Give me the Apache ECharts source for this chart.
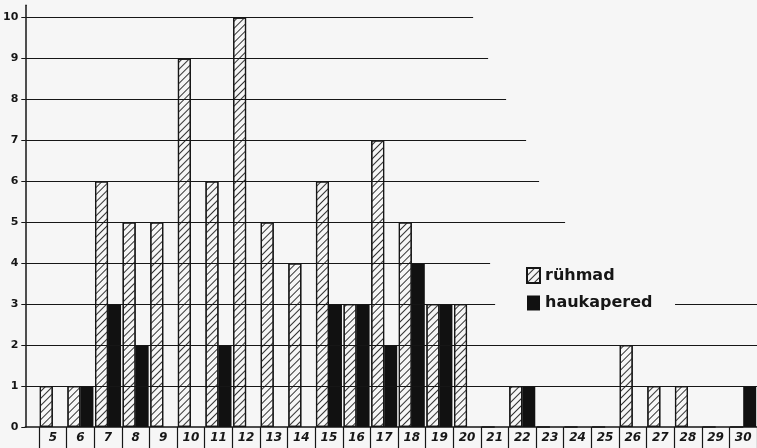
<!DOCTYPE html>
<html><head><meta charset="utf-8">
<script src="https://cdn.jsdelivr.net/npm/echarts@6/dist/echarts.min.js"></script>
<style>html,body{margin:0;padding:0;background:#f6f6f6}#c{width:757px;height:448px}</style>
</head><body><div id="c"></div>
<script>
const categories = ['5','6','7','8','9','10','11','12','13','14','15','16','17','18','19','20','21','22','23','24','25','26','27','28','29','30'];
const ruhmad     = [1,1,6,5,5,9,6,10,5,4,6,3,7,5,3,3,0,1,0,0,0,2,1,1,0,0];
const haukapered = [0,1,3,2,0,0,2,0,0,0,3,3,2,4,3,0,0,1,0,0,0,0,0,0,0,1];
const yTicks = [0,1,2,3,4,5,6,7,8,9,10];
const seriesNames = ['rühmad','haukapered'];

const ink = '#161616';
// hand-drawn gridline extents (decoration only)
const W = 732, L = 25;
const f = px => (px - L) / W;
const gridSegs = [
  [10, 25, 473], [9, 25, 488], [8, 25, 506], [7, 25, 526], [6, 25, 539],
  [5, 25, 565], [4, 25, 490], [3, 25, 495], [3, 675, 757], [2, 25, 757], [1, 25, 757]
];

const chart = echarts.init(document.getElementById('c'));
chart.setOption({
  backgroundColor: '#f6f6f6',
  animation: false,
  grid: [
    {left: 25, right: 0, top: 5.2, bottom: 21},
    {left: 39, right: -2, top: 5.2, bottom: 21}
  ],
  xAxis: [
    {gridIndex: 0, type: 'value', min: 0, max: 1, axisLabel: {show: false}, axisTick: {show: false},
     splitLine: {show: false}, axisLine: {show: true, lineStyle: {color: ink, width: 1.5}}},
    {gridIndex: 1, type: 'category', data: categories, boundaryGap: true,
     axisLine: {show: false},
     axisTick: {show: true, interval: 0, length: 22, lineStyle: {color: ink, width: 1.2}},
     axisLabel: {interval: 0, margin: 5, color: ink, fontFamily: 'DejaVu Sans', fontWeight: 'bold', fontStyle: 'italic', fontSize: 12}}
  ],
  yAxis: [
    {gridIndex: 0, type: 'value', min: 0, max: 10.3, interval: 1,
     axisLine: {show: true, lineStyle: {color: ink, width: 1.5}},
     axisTick: {show: true, length: 4, customValues: yTicks, lineStyle: {color: ink}},
     axisLabel: {customValues: yTicks, margin: 7, color: ink, fontFamily: 'DejaVu Sans', fontWeight: 'bold', fontSize: 11},
     splitLine: {show: false}},
    {gridIndex: 1, type: 'value', min: 0, max: 10.3, show: false, splitLine: {show: false}}
  ],
  legend: {
    orient: 'vertical', left: 521, top: 262, itemWidth: 13, itemHeight: 15, itemGap: 11,
    icon: 'rect', data: seriesNames,
    textStyle: {color: ink, fontFamily: 'DejaVu Sans', fontWeight: 'bold', fontSize: 16}
  },
  series: [
    {name: seriesNames[0], type: 'bar', xAxisIndex: 1, yAxisIndex: 1, data: ruhmad,
     barWidth: 13, barGap: '0%', z: 2,
     itemStyle: {color: '#f6f6f6', borderColor: ink, borderWidth: 1.2,
       decal: {symbol: 'rect', symbolSize: 1, dashArrayX: [1, 0], dashArrayY: [0.8, 3.6], rotation: -Math.PI / 4, color: '#333'}}},
    {name: seriesNames[1], type: 'bar', xAxisIndex: 1, yAxisIndex: 1, data: haukapered,
     barWidth: 13, barGap: '0%', z: 2,
     itemStyle: {color: '#111', borderColor: '#111', borderWidth: 0}},
    {type: 'line', xAxisIndex: 0, yAxisIndex: 0, data: [], z: 5, silent: true,
     markLine: {silent: true, symbol: 'none', label: {show: false},
       lineStyle: {color: ink, width: 1.1, type: 'solid'},
       data: gridSegs.map(s => [{coord: [f(s[1]), s[0]]}, {coord: [f(s[2]), s[0]]}])}}
  ]
});
</script></body></html>
